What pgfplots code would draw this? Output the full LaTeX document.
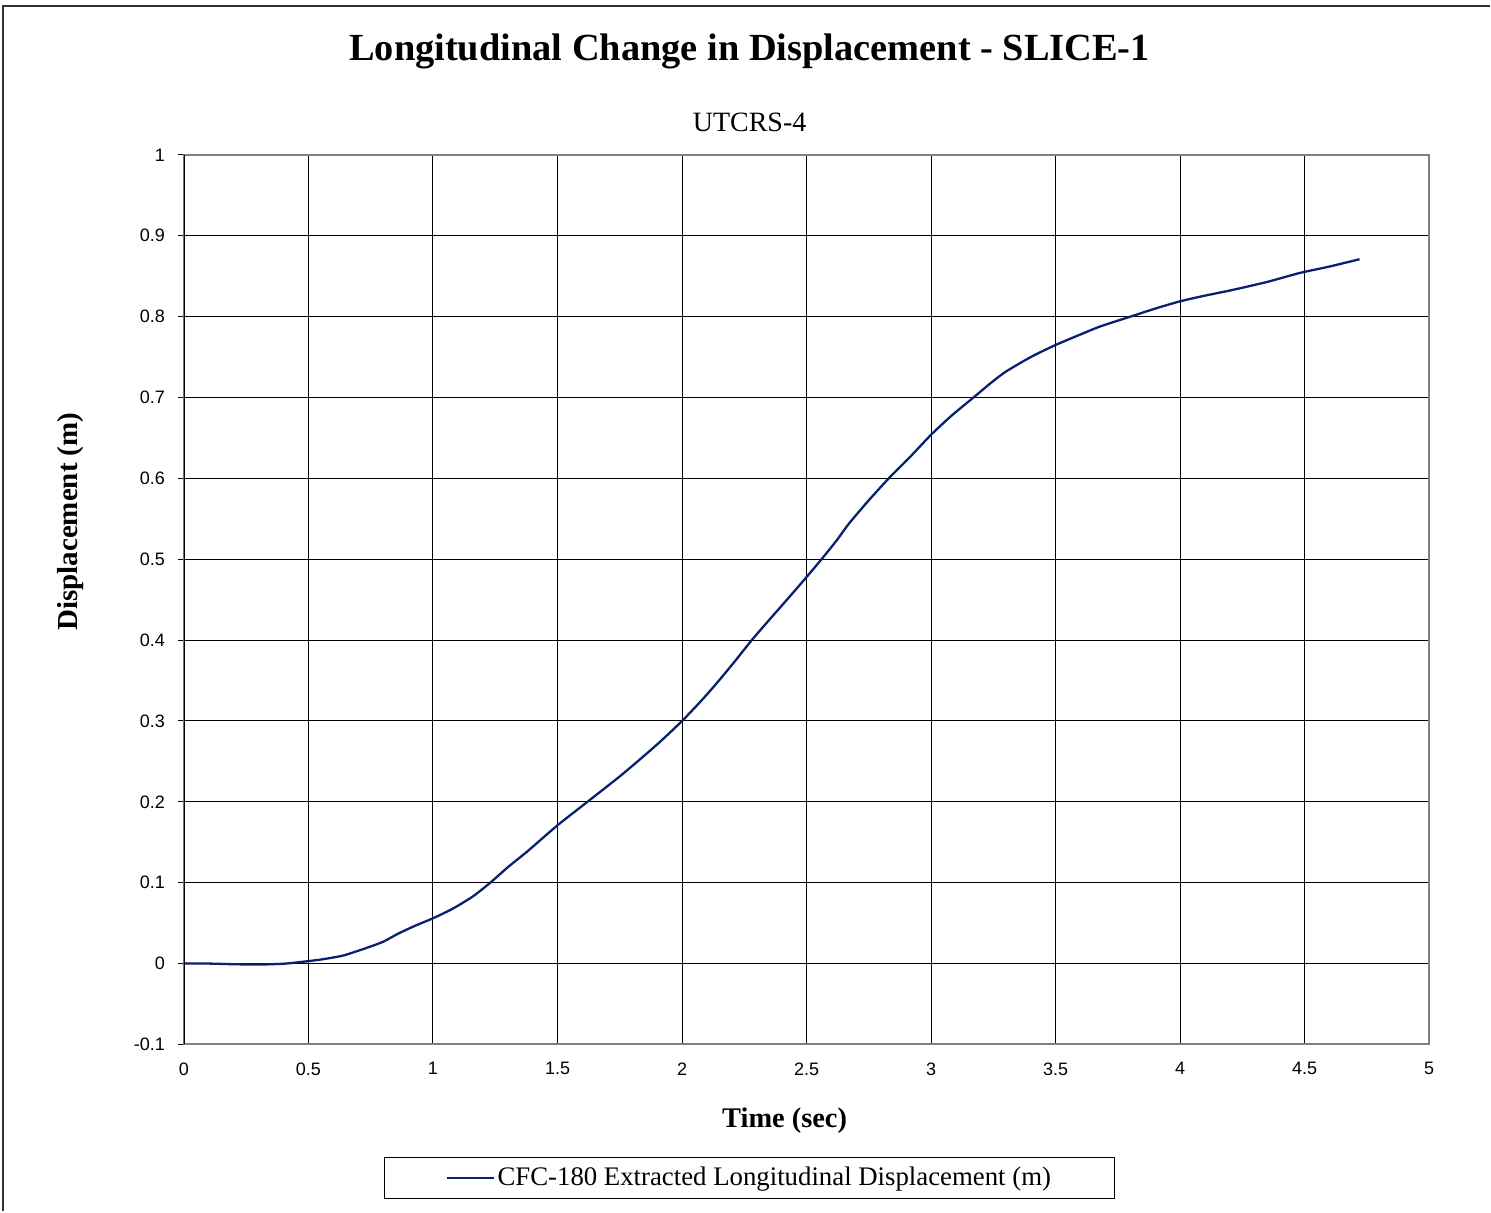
\documentclass[border=0pt]{standalone}
\usepackage{fontspec}
\setmainfont{Liberation Serif}
\newfontfamily\arial{Liberation Sans}
\usepackage{pgfplots}
\pgfplotsset{compat=1.18}
\definecolor{excelnavy}{RGB}{8,32,110}
\definecolor{framegray}{RGB}{128,128,128}

\begin{document}
\begin{tikzpicture}
% page size: 1 px of the reference = 0.5pt
\path (0,0) rectangle (745.5pt,-606pt);
\draw[black!80, line width=0.8pt] (1.5pt,-606pt) -- (1.5pt,-3pt) -- (745.5pt,-3pt);

\begin{axis}[
    at={(92pt,-522.5pt)}, anchor=south west,
    scale only axis,
    width=623pt, height=445pt,
    xmin=0, xmax=5, ymin=-0.1, ymax=1,
    xtick={0,0.5,1,1.5,2,2.5,3,3.5,4,4.5,5},
    xticklabels={0,0.5,1,1.5,2,2.5,3,3.5,4,4.5,5},
    ytick={-0.1,0,0.1,0.2,0.3,0.4,0.5,0.6,0.7,0.8,0.9,1},
    yticklabels={-0.1,0,0.1,0.2,0.3,0.4,0.5,0.6,0.7,0.8,0.9,1},
    ticklabel style={font=\arial\fontsize{9}{10}\selectfont},
    xticklabel style={yshift=-2.5pt},
    yticklabel style={xshift=-3pt},
    grid=major,
    major grid style={black, line width=0.5pt},
    axis line style={framegray, line width=1pt},
    ytick pos=left, xtick pos=bottom,
    tick align=outside,
    major tick length=3pt,
    tick style={black, line width=0.5pt},
    xtick style={draw=none},
    legend style={at={(0.4543,-0.15)}, anchor=center, draw=black, line width=0.5pt,
        font=\fontsize{13.4}{15}\selectfont, inner xsep=31pt, inner ysep=3pt,
        nodes={inner xsep=1pt}},
    legend image code/.code={\draw[#1] (0pt,0pt) -- (23.5pt,0pt);},
]

\addplot[excelnavy, line width=1.15pt, smooth, tension=0.4] coordinates {
(0,0) (0.1,0.0) (0.2,-0.0008) (0.3,-0.0012) (0.4,-0.0002) (0.47,0.002)
(0.55,0.005) (0.64,0.010) (0.73,0.019) (0.8,0.027) (0.86,0.037) (0.93,0.047)
(1.0,0.056) (1.08,0.068) (1.16,0.083) (1.23,0.100) (1.3,0.119) (1.38,0.139)
(1.5,0.171) (1.62,0.200) (1.76,0.234) (1.9,0.271) (2.0,0.300) (2.08,0.326)
(2.14,0.347) (2.21,0.373) (2.28,0.400) (2.35,0.425) (2.41,0.446) (2.5,0.478)
(2.56,0.500) (2.62,0.523) (2.67,0.544) (2.75,0.573) (2.83,0.600) (2.92,0.628)
(3.0,0.654) (3.08,0.677) (3.17,0.700) (3.24,0.718) (3.3,0.732) (3.4,0.750)
(3.5,0.765) (3.6,0.778) (3.68,0.788) (3.8,0.800) (3.9,0.810) (4.0,0.819)
(4.1,0.826) (4.21,0.833) (4.35,0.843) (4.48,0.854) (4.6,0.862) (4.72,0.871)
};
\addlegendentry{CFC-180 Extracted Longitudinal Displacement (m)}

% black value axis on the left
\draw[black, line width=1pt] (axis cs:0,-0.1) -- (axis cs:0,1);
\end{axis}

% titles and axis labels
\node[font=\bfseries\fontsize{19.2}{22}\selectfont] at (375pt,-25.5pt) {Longitudinal Change in Displacement - SLICE-1};
\node[font=\fontsize{14}{16}\selectfont] at (375pt,-61pt) {UTCRS-4};
\node[font=\bfseries\fontsize{14.5}{16}\selectfont, rotate=90] at (35.5pt,-261pt) {Displacement (m)};
\node[font=\bfseries\fontsize{14.2}{16}\selectfont] at (392.5pt,-560.5pt) {Time (sec)};
\end{tikzpicture}
\end{document}
